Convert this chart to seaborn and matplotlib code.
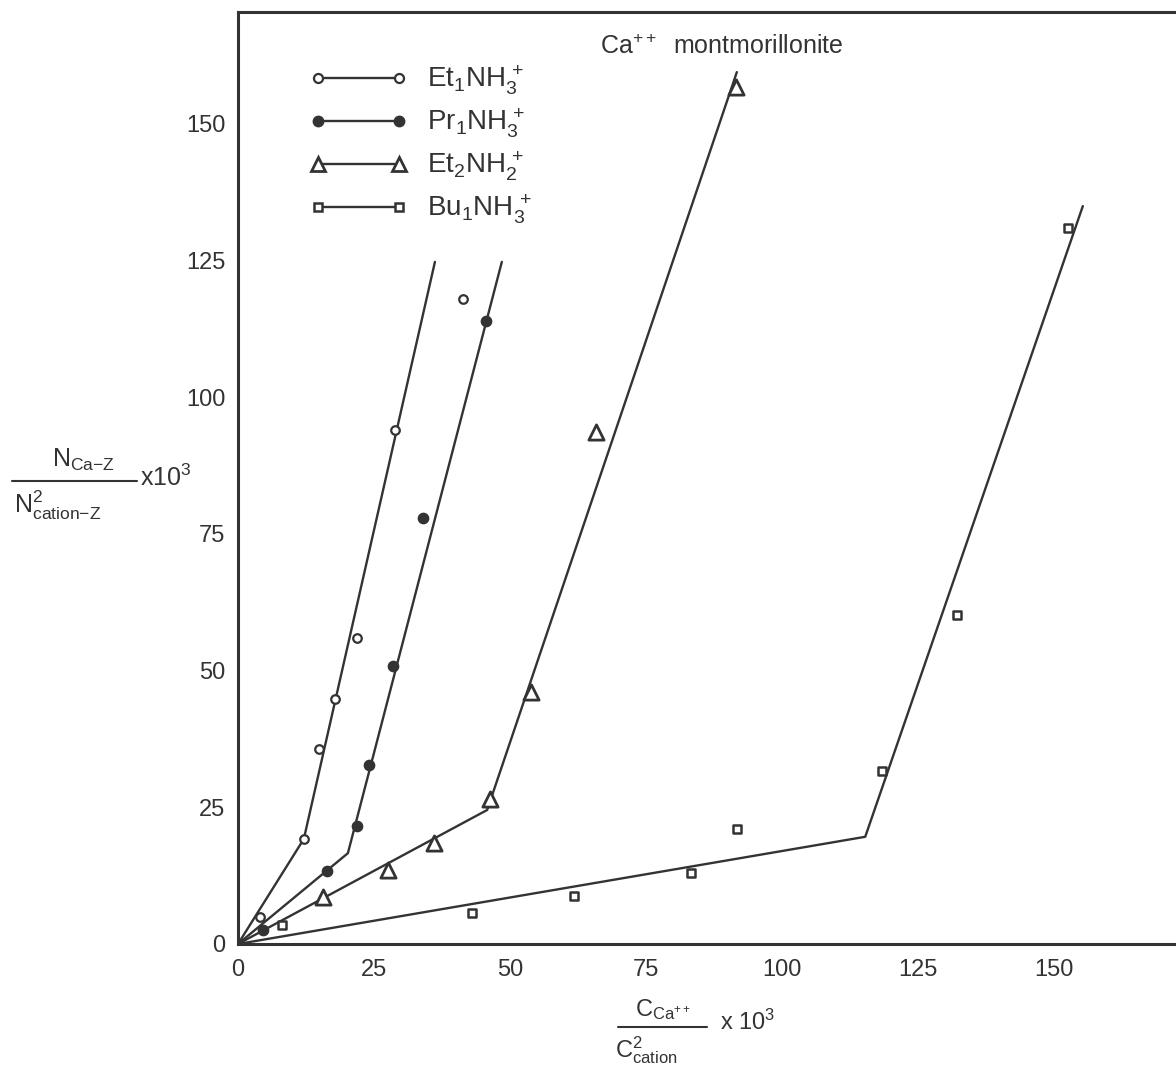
import matplotlib
matplotlib.use("Agg")
import matplotlib.pyplot as plt
from matplotlib.lines import Line2D
from matplotlib import font_manager
import seaborn as sns

# ---- measured points ----
et1_x = [4.0, 12.1, 14.9, 17.8, 21.9, 28.9, 41.4]
et1_y = [4.9, 19.2, 35.6, 44.8, 56.0, 94.0, 118.0]
pr1_x = [4.6, 16.4, 21.9, 24.1, 28.5, 34.0, 45.6]
pr1_y = [2.6, 13.3, 21.6, 32.7, 50.8, 77.9, 113.9]
et2_x = [15.6, 27.6, 36.0, 46.3, 53.9, 65.8, 91.5]
et2_y = [8.6, 13.5, 18.5, 26.5, 46.1, 93.6, 156.7]
bu1_x = [8.1, 43.0, 61.8, 83.3, 91.7, 118.4, 132.2, 152.6]
bu1_y = [3.5, 5.7, 8.8, 13.0, 21.0, 31.6, 60.1, 130.9]

# ---- two-segment fitted lines ----
et1_fit_x = [0.0, 12.1, 36.2]
et1_fit_y = [0.0, 19.2, 124.7]
pr1_fit_x = [0.0, 20.2, 48.5]
pr1_fit_y = [0.0, 16.6, 124.7]
et2_fit_x = [0.0, 45.8, 91.7]
et2_fit_y = [0.0, 24.5, 159.4]
bu1_fit_x = [0.0, 115.3, 155.3]
bu1_fit_y = [0.0, 19.6, 134.9]

series_labels = [r"$\mathregular{Et_1NH_3^{\,+}}$", r"$\mathregular{Pr_1NH_3^{\,+}}$",
                 r"$\mathregular{Et_2NH_2^{\,+}}$", r"$\mathregular{Bu_1NH_3^{\,+}}$"]
x_ticks = [0, 25, 50, 75, 100, 125, 150]
y_ticks = [0, 25, 50, 75, 100, 125, 150]

sns.set_theme(style="white")
installed = {f.name for f in font_manager.fontManager.ttflist}
base_font = "Liberation Sans" if "Liberation Sans" in installed else "DejaVu Sans"
plt.rcParams["font.family"] = [base_font, "DejaVu Sans"]
plt.rcParams["mathtext.fontset"] = "custom"
plt.rcParams["mathtext.rm"] = base_font
plt.rcParams["mathtext.it"] = base_font + ":italic"
plt.rcParams["mathtext.bf"] = base_font + ":bold"

INK = "#333333"
W, H = 1176, 1072
fig = plt.figure(figsize=(W / 100, H / 100), dpi=100)
fig.patch.set_facecolor("white")

# axes: left spine at x=238 px, bottom at y=944 px, top at y=12 px, runs off right edge
ax = fig.add_axes([238 / W, 1 - 944 / H, (W - 238) / W, (944 - 12) / H])
ax.set_facecolor("white")

fits = [(et1_fit_x, et1_fit_y), (pr1_fit_x, pr1_fit_y),
        (et2_fit_x, et2_fit_y), (bu1_fit_x, bu1_fit_y)]
for fx_, fy_ in fits:
    sns.lineplot(x=fx_, y=fy_, ax=ax, color=INK, lw=1.7, sort=False,
                 estimator=None, legend=False)

styles = [
    dict(marker="o", s=38, facecolor="white", edgecolor=INK, linewidth=1.6),
    dict(marker="o", s=55, facecolor=INK, edgecolor=INK, linewidth=1.0),
    dict(marker="^", s=120, facecolor="white", edgecolor=INK, linewidth=2.0),
    dict(marker="s", s=30, facecolor="white", edgecolor=INK, linewidth=1.8),
]
points = [(et1_x, et1_y), (pr1_x, pr1_y), (et2_x, et2_y), (bu1_x, bu1_y)]
for (px, py), st in zip(points, styles):
    sns.scatterplot(x=px, y=py, ax=ax, legend=False, zorder=3, **st)

ax.set_xlim(0, (W - 238) / 5.44)
ax.set_ylim(0, (944 - 12) / 5.47)
ax.set_xticks(x_ticks)
ax.set_yticks(y_ticks)
ax.set_xticklabels([str(v) for v in x_ticks])
ax.set_yticklabels([str(v) for v in y_ticks])
ax.tick_params(axis="both", direction="in", length=6, width=1.5, colors=INK,
               labelsize=17, labelcolor=INK, pad=9)
ax.tick_params(axis="x", pad=11)
for side in ["left", "bottom", "top"]:
    ax.spines[side].set_color(INK)
    ax.spines[side].set_linewidth(2.2)
ax.spines["right"].set_visible(False)
ax.set_xlabel("")
ax.set_ylabel("")

# legend
handles = [
    Line2D([], [], color=INK, lw=1.7, marker="o", markersize=6.5, mfc="white", mec=INK, mew=1.6),
    Line2D([], [], color=INK, lw=1.7, marker="o", markersize=7.5, mfc=INK, mec=INK),
    Line2D([], [], color=INK, lw=1.7, marker="^", markersize=10, mfc="white", mec=INK, mew=2.0),
    Line2D([], [], color=INK, lw=1.7, marker="s", markersize=5.5, mfc="white", mec=INK, mew=1.8),
]
leg = ax.legend(handles, series_labels, loc="upper left",
                bbox_to_anchor=(310 / W, 1 - 64 / H), bbox_transform=fig.transFigure,
                frameon=False, numpoints=2, handlelength=3.5, handletextpad=0.7,
                labelspacing=0.35, borderpad=0, borderaxespad=0, fontsize=20)
for t in leg.get_texts():
    t.set_color(INK)

def fx(x):
    return x / W

def fy(y):
    return 1 - y / H

fig.text(fx(600), fy(47), r"Ca$^{++}$  montmorillonite", fontsize=18, color=INK,
         ha="left", va="center")

# y-axis label as a stacked fraction
fig.text(fx(84), fy(460), "N$_{\\mathregular{Ca{-}Z}}$", fontsize=18, color=INK,
         ha="center", va="center")
fig.add_artist(Line2D([fx(12), fx(137)], [fy(481), fy(481)], color=INK, lw=1.5))
fig.text(fx(140), fy(478), r"x10$^{3}$", fontsize=18, color=INK, ha="left", va="center")
fig.text(fx(14), fy(505), "N$^{2}_{\\mathregular{cation{-}Z}}$", fontsize=18, color=INK,
         ha="left", va="center")

# x-axis label as a stacked fraction
fig.text(fx(663), fy(1010), r"C$_{\mathregular{Ca}^{++}}$", fontsize=17, color=INK,
         ha="center", va="center")
fig.add_artist(Line2D([fx(618), fx(707)], [fy(1027), fy(1027)], color=INK, lw=1.5))
fig.text(fx(720), fy(1022), r"x 10$^{3}$", fontsize=17, color=INK, ha="left", va="center")
fig.text(fx(615), fy(1050), r"C$^{2}_{\mathregular{cation}}$", fontsize=17, color=INK,
         ha="left", va="center")

fig.savefig("out.png", dpi=100, facecolor="white")
